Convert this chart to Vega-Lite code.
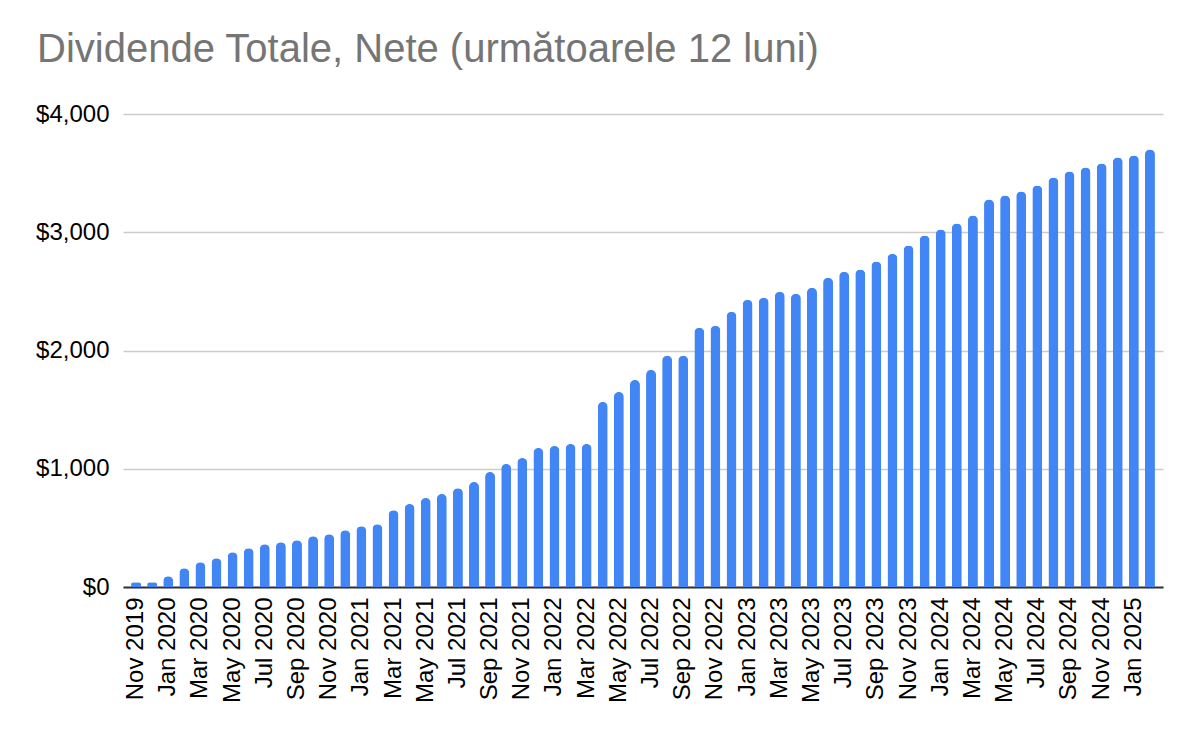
{
  "$schema": "https://vega.github.io/schema/vega-lite/v6.json",
  "autosize": {"type": "none"},
  "width": 1040,
  "height": 473,
  "padding": {"left": 123, "top": 114, "right": 37, "bottom": 155},
  "background": "#ffffff",
  "title": {
    "text": "Dividende Totale, Nete (următoarele 12 luni)",
    "anchor": "start",
    "frame": "group",
    "dx": -86,
    "offset": 0,
    "baseline": "alphabetic",
    "font": "Liberation Sans",
    "fontSize": 40,
    "fontWeight": "normal",
    "color": "#757575"
  },
  "data": {
    "values": [
      {"luna": "Nov 2019", "dividende": 40},
      {"luna": "Dec 2019", "dividende": 40},
      {"luna": "Jan 2020", "dividende": 90},
      {"luna": "Feb 2020", "dividende": 158},
      {"luna": "Mar 2020", "dividende": 209},
      {"luna": "Apr 2020", "dividende": 243},
      {"luna": "May 2020", "dividende": 294},
      {"luna": "Jun 2020", "dividende": 328},
      {"luna": "Jul 2020", "dividende": 362},
      {"luna": "Aug 2020", "dividende": 379},
      {"luna": "Sep 2020", "dividende": 396},
      {"luna": "Oct 2020", "dividende": 430},
      {"luna": "Nov 2020", "dividende": 446},
      {"luna": "Dec 2020", "dividende": 480},
      {"luna": "Jan 2021", "dividende": 514},
      {"luna": "Feb 2021", "dividende": 531},
      {"luna": "Mar 2021", "dividende": 650},
      {"luna": "Apr 2021", "dividende": 701},
      {"luna": "May 2021", "dividende": 752},
      {"luna": "Jun 2021", "dividende": 786},
      {"luna": "Jul 2021", "dividende": 836},
      {"luna": "Aug 2021", "dividende": 887},
      {"luna": "Sep 2021", "dividende": 972},
      {"luna": "Oct 2021", "dividende": 1040},
      {"luna": "Nov 2021", "dividende": 1091},
      {"luna": "Dec 2021", "dividende": 1175},
      {"luna": "Jan 2022", "dividende": 1192},
      {"luna": "Feb 2022", "dividende": 1209},
      {"luna": "Mar 2022", "dividende": 1209},
      {"luna": "Apr 2022", "dividende": 1565},
      {"luna": "May 2022", "dividende": 1650},
      {"luna": "Jun 2022", "dividende": 1751},
      {"luna": "Jul 2022", "dividende": 1836},
      {"luna": "Aug 2022", "dividende": 1955},
      {"luna": "Sep 2022", "dividende": 1955},
      {"luna": "Oct 2022", "dividende": 2192},
      {"luna": "Nov 2022", "dividende": 2209},
      {"luna": "Dec 2022", "dividende": 2328},
      {"luna": "Jan 2023", "dividende": 2430},
      {"luna": "Feb 2023", "dividende": 2446},
      {"luna": "Mar 2023", "dividende": 2497},
      {"luna": "Apr 2023", "dividende": 2480},
      {"luna": "May 2023", "dividende": 2531},
      {"luna": "Jun 2023", "dividende": 2616},
      {"luna": "Jul 2023", "dividende": 2667},
      {"luna": "Aug 2023", "dividende": 2684},
      {"luna": "Sep 2023", "dividende": 2752},
      {"luna": "Oct 2023", "dividende": 2819},
      {"luna": "Nov 2023", "dividende": 2887},
      {"luna": "Dec 2023", "dividende": 2972},
      {"luna": "Jan 2024", "dividende": 3023},
      {"luna": "Feb 2024", "dividende": 3074},
      {"luna": "Mar 2024", "dividende": 3141},
      {"luna": "Apr 2024", "dividende": 3277},
      {"luna": "May 2024", "dividende": 3311},
      {"luna": "Jun 2024", "dividende": 3345},
      {"luna": "Jul 2024", "dividende": 3395},
      {"luna": "Aug 2024", "dividende": 3463},
      {"luna": "Sep 2024", "dividende": 3514},
      {"luna": "Oct 2024", "dividende": 3548},
      {"luna": "Nov 2024", "dividende": 3582},
      {"luna": "Dec 2024", "dividende": 3633},
      {"luna": "Jan 2025", "dividende": 3650},
      {"luna": "Feb 2025", "dividende": 3700}
    ]
  },
  "mark": {
    "type": "bar",
    "color": "#4285f4",
    "cornerRadiusTopLeft": 5,
    "cornerRadiusTopRight": 5
  },
  "encoding": {
    "x": {
      "field": "luna",
      "type": "ordinal",
      "sort": null,
      "title": null,
      "scale": {"paddingInner": 0.38, "paddingOuter": 0.5},
      "axis": {
        "values": ["Nov 2019", "Jan 2020", "Mar 2020", "May 2020", "Jul 2020", "Sep 2020", "Nov 2020", "Jan 2021", "Mar 2021", "May 2021", "Jul 2021", "Sep 2021", "Nov 2021", "Jan 2022", "Mar 2022", "May 2022", "Jul 2022", "Sep 2022", "Nov 2022", "Jan 2023", "Mar 2023", "May 2023", "Jul 2023", "Sep 2023", "Nov 2023", "Jan 2024", "Mar 2024", "May 2024", "Jul 2024", "Sep 2024", "Nov 2024", "Jan 2025"],
        "labelAngle": -90,
        "labelFont": "Liberation Sans",
        "labelFontSize": 24,
        "labelColor": "#000000",
        "labelPadding": 10,
        "ticks": false,
        "domainColor": "#333333",
        "domainWidth": 2,
        "labelOverlap": false
      }
    },
    "y": {
      "field": "dividende",
      "type": "quantitative",
      "title": null,
      "scale": {"domain": [0, 4000]},
      "axis": {
        "values": [0, 1000, 2000, 3000, 4000],
        "format": "$,.0f",
        "labelFont": "Liberation Sans",
        "labelFontSize": 24,
        "labelColor": "#000000",
        "labelPadding": 14,
        "ticks": false,
        "domain": false,
        "gridColor": "#cccccc",
        "gridWidth": 1.5
      }
    }
  },
  "config": {
    "view": {"stroke": null}
  }
}
